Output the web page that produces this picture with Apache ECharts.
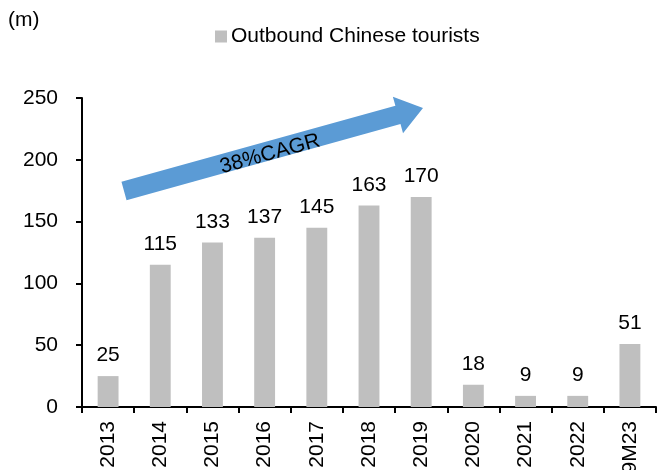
<!DOCTYPE html>
<html>
<head>
<meta charset="utf-8">
<script src="https://cdn.jsdelivr.net/npm/echarts@6/dist/echarts.min.js"></script>
<style>
  html, body { margin: 0; padding: 0; background: #fff; }
  #chart { width: 657px; height: 470px; }
</style>
</head>
<body>
<div id="chart"></div>
<script>
// Outbound Chinese tourists, millions
const categories = ['2013', '2014', '2015', '2016', '2017', '2018', '2019', '2020', '2021', '2022', '9M23'];
const tourists = [25, 115, 133, 137, 145, 163, 170, 18, 9, 9, 51];
const yTicks = { min: 0, max: 250, interval: 50 };
const seriesName = 'Outbound Chinese tourists';
const unitLabel = '(m)';
const cagrLabel = '38%CAGR';

const FONT = 'Liberation Sans, Arial, sans-serif';
const FS = 21;
const chart = echarts.init(document.getElementById('chart'), null, { renderer: 'canvas' });

// Trend arrow (annotation) drawn as a polygon: shaft + head
const tail = [124, 191];
const tip = [423, 108];
const dx = tip[0] - tail[0], dy = tip[1] - tail[1];
const len = Math.sqrt(dx * dx + dy * dy);
const ux = dx / len, uy = dy / len;
const nx = -uy, ny = ux;
const shaftHalf = 9.5, headHalf = 19, headLen = 26;
const base = [tip[0] - ux * headLen, tip[1] - uy * headLen];
const arrowPts = [
  [tail[0] + nx * shaftHalf, tail[1] + ny * shaftHalf],
  [base[0] + nx * shaftHalf, base[1] + ny * shaftHalf],
  [base[0] + nx * headHalf, base[1] + ny * headHalf],
  tip,
  [base[0] - nx * headHalf, base[1] - ny * headHalf],
  [base[0] - nx * shaftHalf, base[1] - ny * shaftHalf],
  [tail[0] - nx * shaftHalf, tail[1] - ny * shaftHalf]
];
const angle = Math.atan2(-dy, dx);

chart.setOption({
  animation: false,
  textStyle: { fontFamily: FONT },
  legend: {
    data: [seriesName],
    left: 210,
    top: 21,
    itemWidth: 12,
    itemHeight: 12,
    itemGap: 4,
    icon: 'rect',
    textStyle: { fontSize: FS, color: '#000', fontFamily: FONT, padding: [0, 0, 0, -1] }
  },
  grid: { left: 82, right: 1, top: 98, bottom: 63, containLabel: false, outerBoundsMode: 'none' },
  xAxis: {
    type: 'category',
    data: categories,
    axisLine: { lineStyle: { color: '#000', width: 2 } },
    axisTick: { show: true, length: 6, lineStyle: { color: '#000', width: 2 }, alignWithLabel: false },
    axisLabel: { rotate: 90, fontSize: FS, color: '#000', margin: 14, fontFamily: FONT, interval: 0 }
  },
  yAxis: {
    type: 'value',
    min: yTicks.min,
    max: yTicks.max,
    interval: yTicks.interval,
    axisLine: { show: true, lineStyle: { color: '#000', width: 2 } },
    axisTick: { show: true, length: 6, lineStyle: { color: '#000', width: 2 } },
    splitLine: { show: false },
    axisLabel: { fontSize: FS, color: '#000', margin: 24, fontFamily: FONT }
  },
  series: [{
    name: seriesName,
    type: 'bar',
    data: tourists,
    barWidth: '40%',
    itemStyle: { color: '#BFBFBF' },
    label: {
      show: true,
      position: 'top',
      distance: 10,
      fontSize: FS,
      color: '#000',
      fontFamily: FONT
    }
  }],
  graphic: [
    {
      type: 'text',
      left: 8,
      top: 10,
      style: { text: unitLabel, font: FS + 'px ' + FONT, fill: '#000' }
    },
    {
      type: 'polygon',
      shape: { points: arrowPts },
      style: { fill: '#5B9BD5' },
      z: 10
    },
    {
      type: 'text',
      x: 270,
      y: 154,
      rotation: angle,
      z: 11,
      style: {
        text: cagrLabel,
        font: FS + 'px ' + FONT,
        fill: '#000',
        align: 'center',
        verticalAlign: 'middle'
      }
    }
  ]
});
</script>
</body>
</html>
